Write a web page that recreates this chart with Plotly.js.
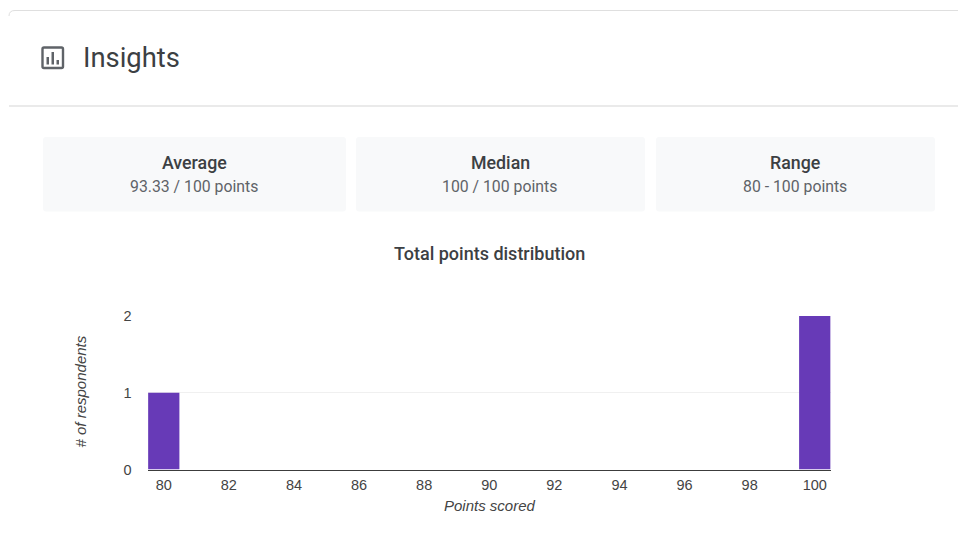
<!DOCTYPE html>
<html>
<head>
<meta charset="utf-8">
<script src="https://cdn.plot.ly/plotly-3.0.1.min.js"></script>
<style>html,body{margin:0;padding:0;background:#fff;overflow:hidden}#chart{width:958px;height:540px}</style>
</head>
<body>
<div id="chart"></div>
<script>
var pointsScored = [80,81,82,83,84,85,86,87,88,89,90,91,92,93,94,95,96,97,98,99,100];
var respondents  = [1,0,0,0,0,0,0,0,0,0,0,0,0,0,0,0,0,0,0,0,2];
var xTicks = [80,82,84,86,88,90,92,94,96,98,100];
var yTicks = [0,1,2];
var cardTitles = ['Average','Median','Range'];
var cardValues = ['93.33 / 100 points','100 / 100 points','80 - 100 points'];
var cardEdges = [[43,346],[356,645],[656,935]];

var W = 958, H = 540;
function px(x){return x/W;}
function py(y){return 1-y/H;}
function P(x,y){return px(x).toFixed(5)+','+py(y).toFixed(5);}
function rounded(x0,y0,x1,y1,r){
  return 'M'+P(x0+r,y0)+' L'+P(x1-r,y0)+' Q'+P(x1,y0)+' '+P(x1,y0+r)+' L'+P(x1,y1-r)+' Q'+P(x1,y1)+' '+P(x1-r,y1)+
         ' L'+P(x0+r,y1)+' Q'+P(x0,y1)+' '+P(x0,y1-r)+' L'+P(x0,y0+r)+' Q'+P(x0,y0)+' '+P(x0+r,y0)+' Z';
}
var shapes = [];
function pshape(path,fill,line,w){
  shapes.push({type:'path',xref:'paper',yref:'paper',path:path,fillcolor:fill,line:{color:line||'rgba(0,0,0,0)',width:w||0},layer:'below'});
}
pshape('M'+P(9,16)+' Q'+P(9,10.5)+' '+P(15,10.5)+' L'+P(958,10.5),'rgba(0,0,0,0)','#dfdfdf',1);
pshape('M'+P(9,106)+' L'+P(958,106),'rgba(0,0,0,0)','#e3e3e3',1.5);
cardEdges.forEach(function(e){pshape(rounded(e[0],137,e[1],211.5,3),'#f8f9fa');});
pshape(rounded(42.5,47.5,63,68,1.5),'rgba(0,0,0,0)','#5f6368',2.4);
pshape('M'+P(46.5,57)+' L'+P(49,57)+' L'+P(49,64.5)+' L'+P(46.5,64.5)+' Z','#5f6368');
pshape('M'+P(51.5,52)+' L'+P(54,52)+' L'+P(54,64.5)+' L'+P(51.5,64.5)+' Z','#5f6368');
pshape('M'+P(56.5,60)+' L'+P(59,60)+' L'+P(59,64.5)+' L'+P(56.5,64.5)+' Z','#5f6368');

function note(text,x,y,font,extra){
  var a = {text:text,xref:'paper',yref:'paper',x:px(x),y:py(y),xanchor:'center',yanchor:'middle',showarrow:false,font:font};
  for(var k in extra){a[k]=extra[k];}
  return a;
}
var annotations = [
  note('Insights',131,58,{family:'Roboto',size:27.4,color:'#3c4043',weight:400}),
  note('Total points distribution',489,253,{family:'Roboto',size:18,color:'#3c4043',weight:500}),
  note('Points scored',489.5,505,{family:'Liberation Sans',size:15,color:'#444444',style:'italic'}),
  note('# of respondents',80,391.5,{family:'Liberation Sans',size:15,color:'#444444',style:'italic'},{textangle:-90})
];
cardEdges.forEach(function(e,i){
  var c=(e[0]+e[1])/2;
  annotations.push(note(cardTitles[i],c-0.5,163,{family:'Roboto',size:17.8,color:'#3c4043',weight:500}));
  annotations.push(note(cardValues[i],c-0.7,186.5,{family:'Roboto',size:15.8,color:'#5f6368'}));
});

var data = [{
  type:'bar',
  x:pointsScored,
  y:respondents,
  marker:{color:'#673ab7'},
  width:0.96,
  hoverinfo:'x+y'
}];
var layout = {
  width:W,height:H,
  margin:{l:0,r:0,t:0,b:0,pad:0},
  paper_bgcolor:'#ffffff',plot_bgcolor:'rgba(0,0,0,0)',
  showlegend:false,
  shapes:shapes,
  annotations:annotations,
  xaxis:{
    domain:[px(147.5),px(831)],
    range:[79.5,100.5],
    tickmode:'array',tickvals:xTicks,
    ticks:'',showgrid:false,zeroline:false,
    showline:true,linecolor:'#3c3c3c',linewidth:1,
    ticklabelstandoff:2,
    tickfont:{family:'Liberation Sans',size:14.5,color:'#444444'}
  },
  yaxis:{
    domain:[py(469.5),py(316)],
    range:[0,2],
    tickmode:'array',tickvals:yTicks,
    ticks:'',showgrid:true,gridcolor:'#f0f0f0',gridwidth:1,zeroline:false,showline:false,
    ticklabelstandoff:15,
    tickfont:{family:'Liberation Sans',size:14.5,color:'#444444'}
  },
  bargap:0.04
};
Plotly.newPlot('chart',data,layout,{displayModeBar:false,responsive:false});
</script>
</body>
</html>
